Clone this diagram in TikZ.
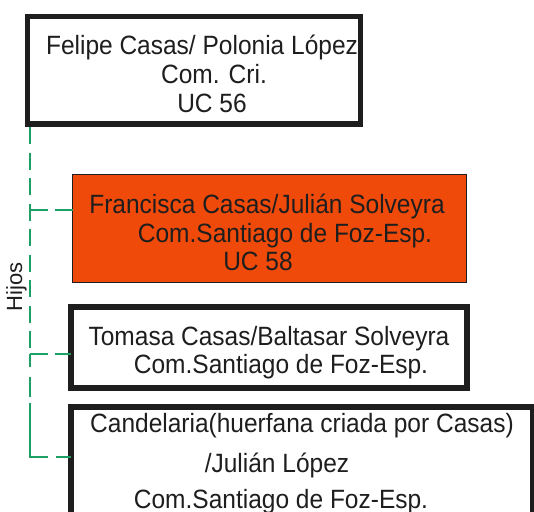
\documentclass[tikz,border=0pt]{standalone}
\usepackage{fontspec}
\setmainfont{Liberation Sans}
\definecolor{txtc}{RGB}{30,30,30}
\definecolor{orng}{RGB}{240,74,10}
\definecolor{grn}{RGB}{30,160,100}
\definecolor{brd}{RGB}{30,30,30}
\begin{document}
\begin{tikzpicture}[x=1pt,y=-1pt,
  box/.style={draw=brd, rectangle, inner sep=0pt, outer sep=0pt},
  thickbox/.style={box, line width=5.5pt, fill=white},
  redbox/.style={box, line width=0.9pt, fill=orng},
  txt/.style={anchor=base, inner sep=0pt, text=txtc, yscale=1.08, font=\fontsize{24.5pt}{28pt}\selectfont},
  conn/.style={draw=grn, line width=2pt}
]
\useasboundingbox (0,0) rectangle (534,511);
\clip (0,0) rectangle (534,511);
\fill[white] (0,0) rectangle (534,511);

% boxes
\node[thickbox, minimum width=333pt, minimum height=107.5pt] (p) at (194,70.25) {};
\node[redbox, minimum width=394pt, minimum height=108pt] (c2) at (269.5,228.5) {};
\node[thickbox, line width=6pt, minimum width=395.5pt, minimum height=80.5pt] (c3) at (268.75,347.25) {};
\node[thickbox, line width=6pt, minimum width=462pt, minimum height=113pt] (c4) at (302,463.5) {};

% texts
\node[txt] (p1) at (202,55) {Felipe Casas/ Polonia López};
\node[txt] (p2) at (214,83.5) {Com. Cri.};
\node[txt] (p3) at (212,112) {UC 56};

\node[txt] (a1) at (267,213) {Francisca Casas/Julián Solveyra};
\node[txt] (a2) at (285,242) {Com.Santiago de Foz-Esp.};
\node[txt] (a3) at (258,270) {UC 58};

\node[txt] (b1) at (269,345) {Tomasa Casas/Baltasar Solveyra};
\node[txt] (b2) at (281,373) {Com.Santiago de Foz-Esp.};

\node[txt] (d1) at (302,432) {Candelaria(huerfana criada por Casas)};
\node[txt] (d2) at (277,472) {/Julián López};
\node[txt] (d3) at (281,508) {Com.Santiago de Foz-Esp.};

\node[inner sep=0pt, text=txtc, rotate=90, font=\fontsize{22pt}{26pt}\selectfont] (hj) at (16.5,287) {Hijos};

% connectors
\coordinate (t0) at (29.5,127);
\coordinate (j2) at (29.5,210);
\coordinate (j3) at (29.5,354);
\coordinate (j4) at (29.5,457);
\draw[conn, dash pattern=on 17pt off 8.5pt] (t0) -- (j3);
\draw[conn, dash pattern=on 18pt off 7pt] (j2) -- (j2 -| c2.west);
\draw[conn, dash pattern=on 18pt off 7pt] (j3) -- (j3 -| c3.west);
\draw[conn, line join=miter, dash pattern=on 13pt off 10pt on 20pt off 6pt on 72pt off 8pt on 30pt off 1pt] (j3) -- (j4) -- (j4 -| c4.west);
\end{tikzpicture}
\end{document}
